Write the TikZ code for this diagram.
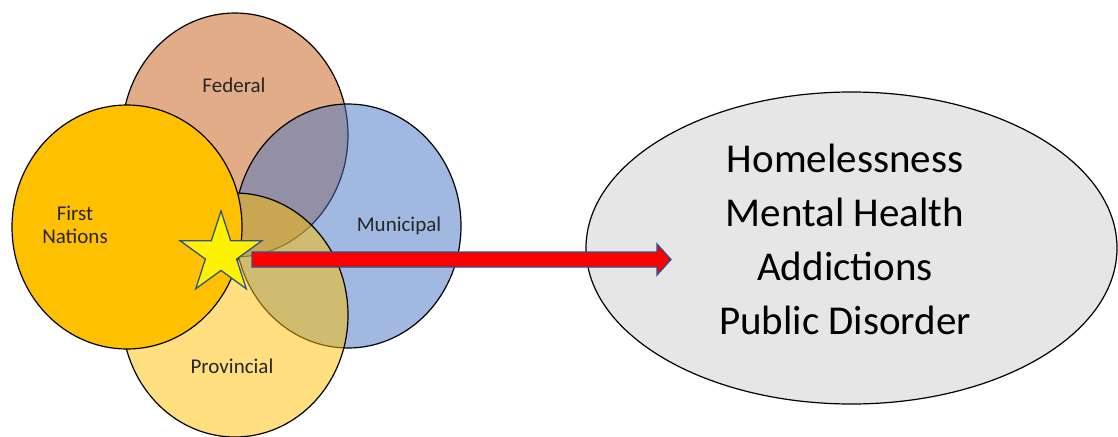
\documentclass[tikz,border=0pt]{standalone}
\usepackage{fontspec}
\setmainfont{Carlito}
\usetikzlibrary{shapes.geometric,calc}
\definecolor{fedc}{HTML}{C55A11}
\definecolor{munc}{HTML}{4472C4}
\definecolor{fnc}{HTML}{FFC000}
\definecolor{ellc}{HTML}{E7E6E6}
\definecolor{edgec}{HTML}{2F528F}
\begin{document}
\begin{tikzpicture}[x=1pt,y=-1pt,
  govcircle/.style={ellipse, draw=black, line width=1.2pt, minimum width=226pt, minimum height=244pt, inner sep=0pt, outer sep=0pt},
  smalllabel/.style={font=\fontsize{21}{22.5}\selectfont, align=center, inner sep=0pt, text=black!85},
  biglabel/.style={font=\fontsize{41}{54}\selectfont, align=center, inner sep=0pt},
  starshape/.style={star, star points=5, star point ratio=2.618, minimum size=86pt, inner sep=0pt, fill=yellow, draw=edgec, line width=1.3pt},
  bigarrow/.style={fill=red, draw=edgec, line width=1.3pt, line join=miter}]
\useasboundingbox (0,0) rectangle (1118,436);
% circles
\node[govcircle, fill=fedc, fill opacity=0.5] (federal) at (235,135) {};
\node[govcircle, fill=munc, fill opacity=0.5] (municipal) at (348,226) {};
\node[govcircle, fill=fnc, fill opacity=0.5] (provincial) at (235,315) {};
\node[govcircle, fill=fnc, minimum width=230pt] (firstnations) at (127,227) {};
% labels
\node[smalllabel] (fedlab) at (234,85) {Federal};
\node[smalllabel] (fnlab) at (75,225) {First\\Nations};
\node[smalllabel] (munlab) at (399,226) {Municipal};
\node[smalllabel] (provlab) at (232,366) {Provincial};
% star
\node[starshape] (starnode) at (221,254) {};
% outcome ellipse
\node[ellipse, draw=black, line width=1.2pt, fill=ellc, minimum width=531pt, minimum height=312pt, inner sep=0pt] (outcome) at (851.5,248) {};
\node[biglabel] (outtext) at (845,239) {Homelessness\\Mental Health\\Addictions\\Public Disorder};
% arrow
\coordinate (as) at (252,259.5);
\coordinate (at) at (671,259.5);
\draw[bigarrow] ($(as)+(0,-7.5)$) -- ($(at)+(-14,-7.5)$) -- ($(at)+(-14,-15.5)$) -- (at) -- ($(at)+(-14,15.5)$) -- ($(at)+(-14,7.5)$) -- ($(as)+(0,7.5)$) -- cycle;
\end{tikzpicture}
\end{document}
